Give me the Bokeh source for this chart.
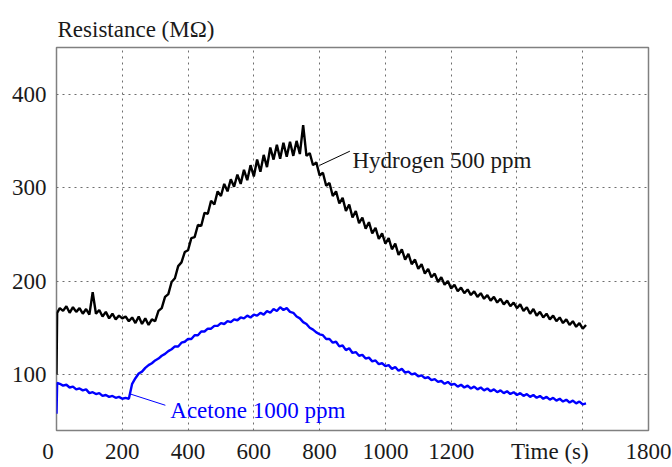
from bokeh.plotting import figure
from bokeh.models import Range1d, FixedTicker, Label, Grid
from bokeh.embed import file_html
from bokeh.resources import INLINE

# ---- data ----
time_s = [0, 2,
          10, 20, 30, 40, 50, 60, 70, 80, 90, 100,
          110, 120, 130, 140, 150, 160, 170, 180, 190, 200,
          210, 220, 230, 240, 250, 260, 270, 280, 290, 300,
          310, 320, 330, 340, 350, 360, 370, 380, 390, 400,
          410, 420, 430, 440, 450, 460, 470, 480, 490, 500,
          510, 520, 530, 540, 550, 560, 570, 580, 590, 600,
          610, 620, 630, 640, 650, 660, 670, 680, 690, 700,
          710, 720, 730, 740, 750, 760, 770, 780, 790, 800,
          810, 820, 830, 840, 850, 860, 870, 880, 890, 900,
          910, 920, 930, 940, 950, 960, 970, 980, 990, 1000,
          1010, 1020, 1030, 1040, 1050, 1060, 1070, 1080, 1090, 1100,
          1110, 1120, 1130, 1140, 1150, 1160, 1170, 1180, 1190, 1200,
          1210, 1220, 1230, 1240, 1250, 1260, 1270, 1280, 1290, 1300,
          1310, 1320, 1330, 1340, 1350, 1360, 1370, 1380, 1390, 1400,
          1410, 1420, 1430, 1440, 1450, 1460, 1470, 1480, 1490, 1500,
          1510, 1520, 1530, 1540, 1550, 1560, 1570, 1580, 1590, 1600,
          1610]

hydrogen_500ppm = [100, 166,
                   171, 168, 173, 166, 172, 167, 171, 165, 170, 164,
                   188, 165, 169, 162, 167, 160, 165, 159, 163, 160,
                   162, 157, 161, 155, 162, 154, 160, 153, 159, 157,
                   168, 171, 183, 186, 199, 203, 216, 220, 231, 233,
                   246, 247, 260, 259, 273, 272, 286, 282, 296, 291,
                   304, 296, 309, 301, 314, 304, 319, 308, 324, 312,
                   330, 317, 335, 322, 343, 330, 346, 331, 348, 333,
                   349, 334, 350, 336, 367, 334, 337, 324, 327, 313,
                   316, 302, 305, 291, 296, 283, 289, 275, 282, 268,
                   275, 262, 268, 256, 263, 251, 257, 245, 251, 240,
                   246, 234, 240, 228, 234, 223, 229, 218, 223, 213,
                   218, 208, 213, 204, 208, 199, 204, 196, 200, 192,
                   196, 189, 193, 187, 191, 185, 189, 183, 187, 181,
                   185, 179, 183, 177, 181, 175, 179, 173, 177, 171,
                   175, 168, 172, 165, 170, 163, 167, 161, 165, 159,
                   163, 157, 161, 155, 159, 153, 157, 151, 155, 149,
                   153]

acetone_1000ppm = [58, 91,
                   90, 88, 89, 86, 87, 84, 85, 83, 84, 80,
                   81, 79, 80, 77, 78, 76, 77, 75, 76, 74,
                   75, 74, 90, 96, 101, 103, 107, 110, 112, 115,
                   117, 120, 122, 125, 127, 130, 130, 134, 135, 138,
                   138, 142, 142, 146, 146, 149, 149, 152, 152, 155,
                   154, 157, 156, 159, 158, 161, 160, 163, 161, 164,
                   163, 166, 164, 168, 166, 170, 168, 172, 169, 171,
                   167, 166, 162, 160, 156, 154, 150, 148, 145, 143,
                   142, 138, 138, 134, 135, 130, 131, 126, 128, 123,
                   124, 120, 121, 117, 118, 114, 115, 111, 112, 109,
                   110, 106, 108, 104, 106, 102, 103, 100, 101, 98,
                   99, 96, 97, 94, 95, 92, 93, 90, 92, 89,
                   90, 87, 89, 86, 88, 85, 87, 84, 86, 83,
                   85, 82, 84, 81, 83, 80, 82, 79, 81, 78,
                   80, 77, 79, 76, 78, 75, 77, 74, 76, 73,
                   75, 72, 74, 71, 73, 70, 72, 69, 71, 68,
                   69]

xtick_vals = [0, 200, 400, 600, 800, 1000, 1200, 1500, 1800]
xtick_text = ["0\u00a0\u00a0\u00a0", "200", "400", "600", "800", "1000",
              "1200", "Time (s)", "1800"]
xgrid_vals = [200, 400, 600, 800, 1000, 1200, 1400, 1600]
ytick_vals = [100, 200, 300, 400]

# annotation leader lines (data units)
h2_leader_x = [801, 892]
h2_leader_y = [324, 339]
ac_leader_x = [225, 331]
ac_leader_y = [79, 67]

FONT = "Liberation Serif"
FS = "23px"
TXT = "#1a1a1a"
BLUE = "#0000ff"

p = figure(width=672, height=467, output_backend="svg", toolbar_location=None,
           x_range=Range1d(0, 1800), y_range=Range1d(40, 450),
           min_border_left=56, min_border_right=24,
           min_border_top=47, min_border_bottom=37)

p.background_fill_color = "white"
p.border_fill_color = "white"
p.outline_line_color = "#808080"
p.outline_line_width = 1.5
p.grid.visible = False

p.title.text = "Resistance (M\u03a9)"
p.title.align = "left"
p.title.offset = 1
p.title.standoff = 11
p.title.text_font = FONT
p.title.text_font_size = FS
p.title.text_font_style = "normal"
p.title.text_color = TXT

p.add_layout(Grid(dimension=0, ticker=FixedTicker(ticks=xgrid_vals),
                  grid_line_color="#6e6e6e", grid_line_dash="2 4",
                  grid_line_width=1), "center")
p.add_layout(Grid(dimension=1, ticker=FixedTicker(ticks=ytick_vals),
                  grid_line_color="#6e6e6e", grid_line_dash="2 4",
                  grid_line_width=1), "center")

for ax in (p.xaxis[0], p.yaxis[0]):
    ax.axis_line_color = None
    ax.major_tick_line_color = None
    ax.minor_tick_line_color = None
    ax.major_tick_out = 0
    ax.major_tick_in = 0
    ax.minor_tick_out = 0
    ax.minor_tick_in = 0
    ax.major_label_text_font = FONT
    ax.major_label_text_font_size = FS
    ax.major_label_text_color = TXT

p.yaxis[0].ticker = FixedTicker(ticks=ytick_vals)
p.yaxis[0].major_label_standoff = 10
p.xaxis[0].ticker = FixedTicker(ticks=xtick_vals)
p.xaxis[0].major_label_overrides = {v: s for v, s in zip(xtick_vals, xtick_text)}
p.xaxis[0].major_label_standoff = 8

p.line(time_s, hydrogen_500ppm, line_color="black", line_width=2.4)
p.line(time_s, acetone_1000ppm, line_color=BLUE, line_width=2.4)

p.line(h2_leader_x, h2_leader_y, line_color="black", line_width=1)
p.line(ac_leader_x, ac_leader_y, line_color=BLUE, line_width=1)

p.add_layout(Label(x=900, y=329, text="Hydrogen 500 ppm", text_font=FONT,
                   text_font_size=FS, text_color=TXT,
                   text_baseline="alphabetic", text_align="left"))
p.add_layout(Label(x=346, y=61, text="Acetone 1000 ppm", text_font=FONT,
                   text_font_size=FS, text_color=BLUE,
                   text_baseline="alphabetic", text_align="left"))

open("out.html", "w").write(file_html(p, INLINE))
